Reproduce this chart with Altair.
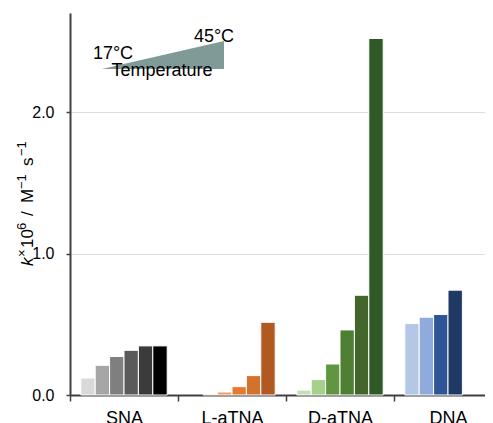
import altair as alt
import pandas as pd

groups = ["SNA", "L-aTNA", "D-aTNA", "DNA"]
sna_k = [0.120, 0.210, 0.272, 0.316, 0.347, 0.347]
l_atna_k = [None, 0.007, 0.021, 0.059, 0.137, 0.514]
d_atna_k = [0.035, 0.109, 0.219, 0.460, 0.705, 2.52]
dna_k = [0.505, 0.550, 0.569, 0.741]
y_ticks = [0, 1, 2]
temps = [17, 45]
wedge = [0, 1]

sna_colors = ["#d9d9d9", "#a6a6a6", "#7f7f7f", "#5a5a5a", "#3b3b3b", "#000000"]
l_colors = ["#fbe5d6", "#f5c0a0", "#f09a60", "#e67a2e", "#d2722c", "#b05a22"]
d_colors = ["#c5e0b4", "#a6d18a", "#5f963f", "#4f7f32", "#43662c", "#2f5a28"]
dna_colors = ["#b4c7e7", "#8faadc", "#2f5597", "#1f3864"]

rows, keys, cols = [], [], []
for g, vals, pal in zip(groups, [sna_k, l_atna_k, d_atna_k, dna_k],
                        [sna_colors, l_colors, d_colors, dna_colors]):
    for i, v in enumerate(vals):
        if v is None:
            continue
        key = f"{g}-{i+1}"
        rows.append({"group": g, "slot": i + 1, "k": v, "key": key})
        keys.append(key)
        cols.append(pal[i])
df = pd.DataFrame(rows)

FONT = "Liberation Sans"

bars = alt.Chart(df).mark_bar(stroke="white", strokeWidth=1).encode(
    x=alt.X("group:N", sort=groups,
            scale=alt.Scale(domain=groups, range=[0, 432], paddingInner=0, paddingOuter=0),
            axis=alt.Axis(title=None, tickBand="extent", labelFontSize=18, labelFont=FONT,
                          labelColor="black", tickSize=6, labelPadding=8, labelAngle=0,
                          domainColor="#404040", domainWidth=2, tickColor="#404040",
                          tickWidth=1.5, grid=False)),
    xOffset=alt.XOffset("slot:O", scale=alt.Scale(domain=[1, 2, 3, 4, 5, 6],
                                                  paddingInner=0, paddingOuter=0.75)),
    y=alt.Y("k:Q", scale=alt.Scale(domain=[0, 2.7], nice=False, zero=True),
            axis=alt.Axis(title=None, values=y_ticks, format=".1f", grid=True,
                          gridColor="#dcdcdc", gridWidth=1, tickSize=4, labelPadding=12,
                          labelFontSize=16, labelFont=FONT, labelColor="black",
                          domainColor="#404040", domainWidth=2, tickColor="#404040",
                          tickWidth=1.5)),
    color=alt.Color("key:N", scale=alt.Scale(domain=keys, range=cols), legend=None),
)

wedge_df = pd.DataFrame({"temp": temps, "w": wedge})
wedge_layer = alt.Chart(wedge_df).mark_area(color="#7f9a97", opacity=1).encode(
    x=alt.X("temp:Q", scale=alt.Scale(domain=[17, 45], range=[32, 154], nice=False, zero=False), axis=None),
    y=alt.Y("w:Q", scale=alt.Scale(domain=[0, 1], range=[56, 28], nice=False), axis=None),
    y2=alt.value(56),
)

def label(text, x, y, size=18, align="center", angle=0, style="normal"):
    return alt.Chart(pd.DataFrame({"t": [text]})).mark_text(
        align=align, baseline="alphabetic", fontSize=size, font=FONT, color="black",
        angle=angle, fontStyle=style,
    ).encode(text="t:N", x=alt.value(x), y=alt.value(y))

t17 = label("17°C", 43, 46)
t45 = label("45°C", 144, 29)
ttemp = label("Temperature", 92, 63)

# y-axis title assembled from parts (rotated): (text, start y, raised, italic)
MAIN, SUP = 17, 13
title_parts = [
    ("k", 253, False, True),
    ("×", 244, True, False),
    ("10", 235, False, False),
    ("6", 217, True, False),
    ("/", 203, False, False),
    ("M", 190, False, False),
    ("−1", 176, True, False),
    ("s", 153, False, False),
    ("−1", 143, True, False),
]
title_layers = [
    label(t, -44 if up else -37, yy, size=SUP if up else MAIN, align="left", angle=270,
          style="italic" if it else "normal")
    for t, yy, up, it in title_parts
]

chart = alt.layer(bars, wedge_layer, t17, t45, ttemp, *title_layers).resolve_scale(
    x="independent", y="independent"
).properties(
    width=415, height=382,
    autosize=alt.AutoSizeParams(type="none"),
    padding={"left": 62, "top": 5, "right": 0, "bottom": 28},
    background="white",
).configure_view(stroke=None)

chart.save("out.html", embed_options={"renderer": "svg", "actions": False})
